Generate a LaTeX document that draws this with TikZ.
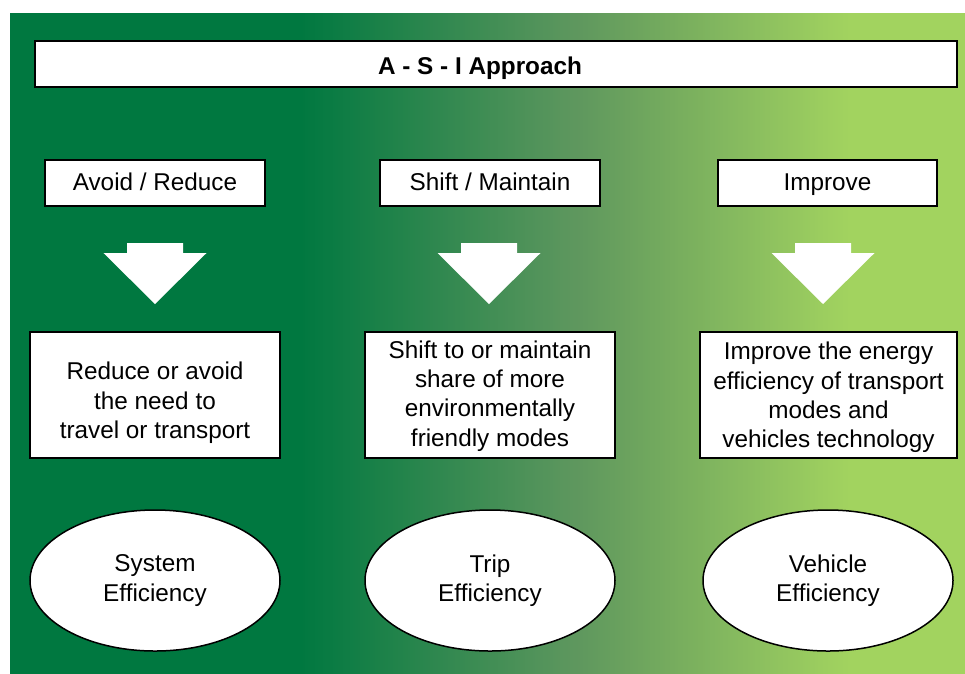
\documentclass[tikz,border=0pt]{standalone}
\usepackage{fontspec}
\setmainfont{Liberation Sans}
\usetikzlibrary{shapes.geometric}
\definecolor{dkgreen}{RGB}{0,120,64}
\definecolor{midgreen}{RGB}{94,151,94}
\definecolor{ltgreen}{RGB}{162,211,95}
\tikzset{
  txt/.style={font=\fontsize{24.3}{29.3}\selectfont, align=center, text=black},
  box/.style={txt, draw=black, line width=2pt, fill=white, inner sep=0pt},
  hdr/.style={box, minimum height=46, text height=19.5pt, text depth=5pt},
  oval/.style={txt, ellipse, draw=black, line width=1.5pt, fill=white, inner sep=0pt, minimum width=250, minimum height=141},
}
\newcommand{\blockarrow}[1]{%
  \fill[white] (#1-28,243) -- (#1+28,243) -- (#1+28,253) -- (#1+51.5,253) -- (#1,304) -- (#1-51.5,253) -- (#1-28,253) -- cycle;}
\begin{document}
\begin{tikzpicture}[x=1pt,y=-1pt]
\useasboundingbox (0,0) rectangle (965,673);
% background
\fill[dkgreen] (10,13) rectangle (302,675);
\fill[ltgreen] (848,13) rectangle (966,675);
\foreach \i in {0,...,109} {
  \pgfmathsetmacro{\p}{\i/109*100}
  \pgfmathsetmacro{\xa}{300+\i*2.5}
  \fill[midgreen!\p!dkgreen] (\xa,13) rectangle ({\xa+3},675);
}
\foreach \i in {0,...,109} {
  \pgfmathsetmacro{\p}{\i/109*100}
  \pgfmathsetmacro{\xa}{575+\i*2.5}
  \fill[ltgreen!\p!midgreen] (\xa,13) rectangle ({\xa+3},675);
}
% title
\node[box, minimum width=922, minimum height=46] (title) at (496,64) {};
\node[txt, font=\fontsize{24.3}{29.3}\selectfont\bfseries] (titletxt) at (480,68) {A - S - I Approach};
% headers
\node[hdr, minimum width=220] (h1) at (155,183) {Avoid / Reduce};
\node[hdr, minimum width=220] (h2) at (490,183) {Shift / Maintain};
\node[hdr, minimum width=219] (h3) at (827.5,183) {Improve};
% arrows
\blockarrow{155}
\blockarrow{489}
\blockarrow{823}
% descriptions
\node[box, minimum width=250, minimum height=126] (d1) at (155,395) {};
\node[txt] (d1t) at (155,403) {Reduce or avoid\\the need to\\travel or transport};
\node[box, minimum width=250, minimum height=126] (d2) at (490,395) {};
\node[txt] (d2t) at (490,396) {Shift to or maintain\\share of more\\environmentally\\friendly modes};
\node[box, minimum width=257, minimum height=126] (d3) at (828.5,395) {};
\node[txt] (d3t) at (828.5,397.5) {Improve the energy\\efficiency of transport\\modes and\\vehicles technology};
% ellipses
\node[oval] (e1) at (155,580.5) {System\\Efficiency};
\node[oval] (e2) at (490,580.5) {Trip\\Efficiency};
\node[oval] (e3) at (828,580.5) {Vehicle\\Efficiency};
\end{tikzpicture}
\end{document}
